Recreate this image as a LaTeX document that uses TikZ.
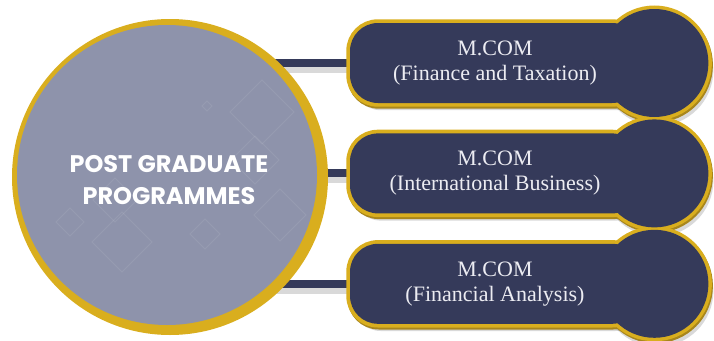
\documentclass[tikz,border=0pt]{standalone}
\usepackage{fontspec}
\setmainfont{Liberation Serif}
\newfontfamily\hubfont{Poppins}
\usetikzlibrary{positioning,backgrounds,calc}

\definecolor{navy}{HTML}{353A5A}
\definecolor{hubgray}{HTML}{8E93AB}
\definecolor{gold}{HTML}{D9AE1E}
\definecolor{darkgold}{HTML}{A8861C}
\definecolor{paletext}{HTML}{ECECF2}

\begin{document}
\begin{tikzpicture}[
    x=1pt, y=-1pt,
    ring/.style={
        circle,
        fill=gold,
        minimum size=316pt,
        inner sep=0pt
    },
    hub/.style={
        circle,
        fill=hubgray,
        minimum size=300pt,
        inner sep=0pt,
        align=center,
        text=white,
        font=\hubfont\bfseries\fontsize{24}{32}\selectfont
    },
    pill/.style={
        rectangle,
        rounded corners=28pt,
        fill=navy,
        minimum width=290pt,
        minimum height=80pt,
        align=center,
        text=paletext,
        font=\fontsize{22}{25}\selectfont
    },
    knob/.style={
        circle,
        fill=navy,
        minimum size=108pt,
        inner sep=0pt
    },
    bar/.style={draw=navy, line width=8pt},
    barshadow/.style={draw=black, opacity=0.15, line width=6pt},
    goldline/.style={draw=gold, line width=7pt},
    goldshade/.style={draw=darkgold, line width=7pt},
    shade/.style={fill=black, opacity=0.15},
    motif/.style={draw=white, opacity=0.08, line width=0.8pt}
]

\useasboundingbox (0,0) rectangle (714,340);

% Central circle
\node [ring] (ring) at (170,177) {};
\node [hub] (hub) at (167,175) {};
\node [text=white, align=center, font=\hubfont\bfseries\fontsize{24}{32}\selectfont] (hubtext) at (169,180) {POST GRADUATE\\PROGRAMMES};

% Faint diamonds inside the circle
\foreach \cx/\cy/\r in {207/106/5, 262/112/32, 255/160/24, 115/200/22,
                        205/234/15, 122/242/30, 280/215/26, 70/222/14} {
    \draw [motif] (\cx-\r,\cy) -- (\cx,\cy-\r) -- (\cx+\r,\cy) -- (\cx,\cy+\r) -- cycle;
}

% Programme pills
\node [pill] (mcom1) at (495,63) {M.COM\\(Finance and Taxation)};
\node [pill, below=30pt of mcom1] (mcom2) {M.COM\\(International Business)};
\node [pill, below=30pt of mcom2] (mcom3) {M.COM\\(Financial Analysis)};

\node [knob, right=-40pt of mcom1] (knob1) {};
\node [knob, right=-40pt of mcom2] (knob2) {};
\node [knob, right=-40pt of mcom3] (knob3) {};

% Shadows, bars and gold borders
\begin{scope}[on background layer]
    \foreach \i in {1,2,3} {
        \fill [shade, rounded corners=28pt] ($(mcom\i.south west)+(3,7)$) rectangle ($(mcom\i.north east)+(3,7)$);
        \fill [shade] ($(knob\i.center)+(3,7)$) circle [radius=56];
        \draw [barshadow] ($(hub.center |- mcom\i)+(0,7)$) -- ($(mcom\i.west)+(0,7)$);
        \draw [bar] (hub.center |- mcom\i) -- (mcom\i.west);
        \draw [goldshade, rounded corners=28pt] ($(mcom\i.south west)+(1,2)$) rectangle ($(mcom\i.north east)+(1,2)$);
        \draw [goldshade] ($(knob\i.center)+(1,2)$) circle [radius=54];
        \draw [goldline, rounded corners=28pt] (mcom\i.south west) rectangle (mcom\i.north east);
        \draw [goldline] (knob\i.center) circle [radius=54];
    }
\end{scope}

\end{tikzpicture}
\end{document}
